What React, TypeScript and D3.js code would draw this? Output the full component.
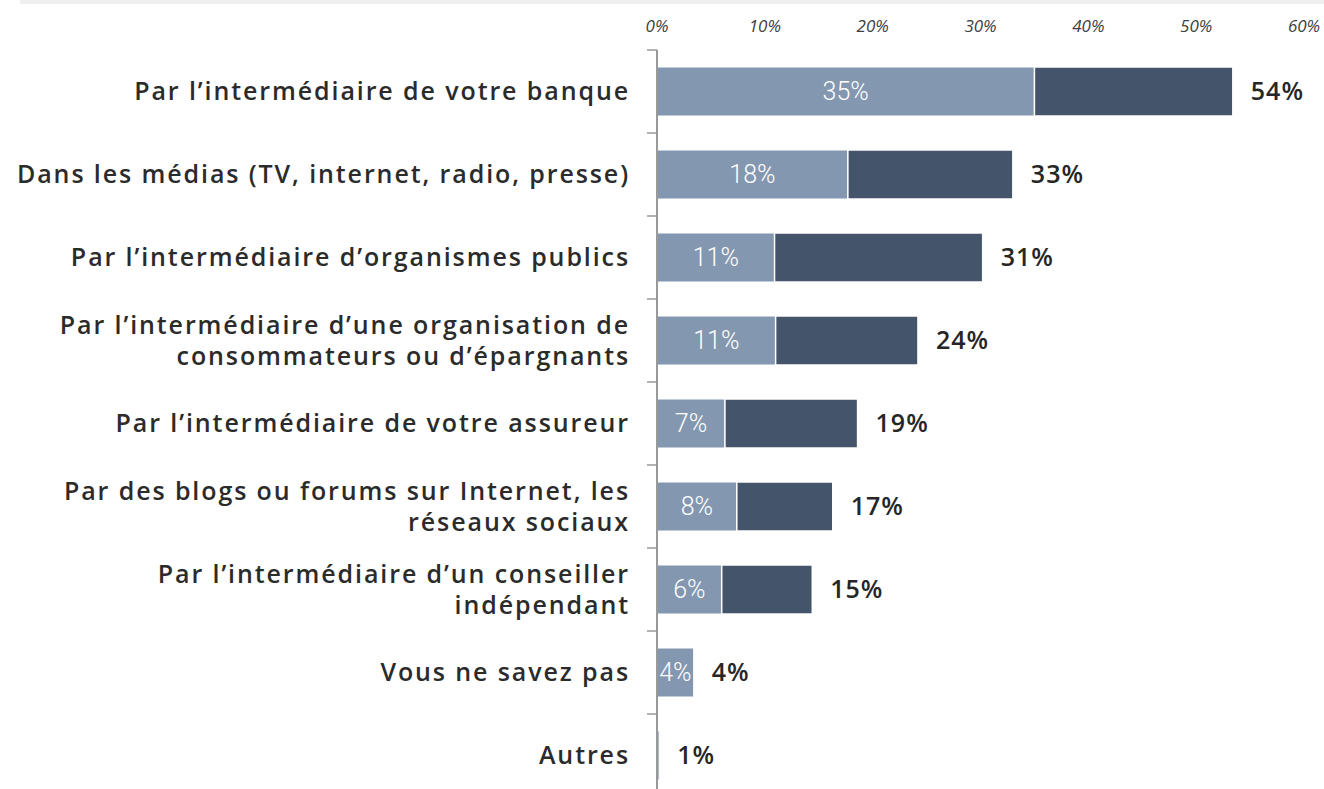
import React from "react";
import * as d3 from "d3";

// categories, top to bottom (\n = line break in the label)
const categories = [
  "Par l’intermédiaire de votre banque",
  "Dans les médias (TV, internet, radio, presse)",
  "Par l’intermédiaire d’organismes publics",
  "Par l’intermédiaire d’une organisation de\nconsommateurs ou d’épargnants",
  "Par l’intermédiaire de votre assureur",
  "Par des blogs ou forums sur Internet, les\nréseaux sociaux",
  "Par l’intermédiaire d’un conseiller\nindépendant",
  "Vous ne savez pas",
  "Autres",
];

// first segment (light) and total bar length
const firstValues = [35.0, 17.7, 10.9, 11.0, 6.3, 7.4, 6.0, 3.4, 0.2];
const totalValues = [53.4, 33.0, 30.2, 24.2, 18.6, 16.3, 14.4, 3.4, 0.2];

// printed labels
const firstLabels = ["35%", "18%", "11%", "11%", "7%", "8%", "6%", "4%", ""];
const totalLabels = ["54%", "33%", "31%", "24%", "19%", "17%", "15%", "4%", "1%"];

const ticks = [0, 10, 20, 30, 40, 50, 60];

const W = 1324;
const H = 789;
const LIGHT = "#8497b0";
const DARK = "#44546a";
const AXIS = "#999999";

export default function App() {
  const x = d3.scaleLinear().domain([0, 60]).range([657, 1304]);
  const y = d3.scaleBand<string>().domain(categories).range([50, 797]).padding(0);
  const step = y.step();
  const barH = 49;

  return (
    <div style={{ position: "absolute", left: 0, top: 0 }}>
      <svg width={W} height={H} style={{ display: "block", background: "#fff" }}>
        <rect x={20} y={0} width={W - 20} height={4} fill="#efefef" />

        {/* top tick labels */}
        {ticks.map((t) => (
          <text
            key={t}
            x={x(t)}
            y={32}
            textAnchor="middle"
            fontFamily="Open Sans"
            fontStyle="italic"
            fontSize={17}
            fill="#404040"
          >
            {t}%
          </text>
        ))}

        {categories.map((c, i) => {
          const y0 = y(c)!;
          const cy = y0 + step / 2;
          const by = cy - barH / 2;
          const lines = c.split("\n");
          const lh = 31;
          return (
            <g key={c}>
              <text
                x={630}
                y={cy}
                textAnchor="end"
                fontFamily="Open Sans"
                fontWeight={600}
                fontSize={25}
                letterSpacing={1.9}
                fill="#2b2b2b"
              >
                {lines.map((l, j) => (
                  <tspan
                    key={j}
                    x={630}
                    y={cy + (j - (lines.length - 1) / 2) * lh}
                    dy="0.35em"
                  >
                    {l}
                  </tspan>
                ))}
              </text>

              <rect
                x={x(0)}
                y={by}
                width={x(firstValues[i]) - x(0)}
                height={barH}
                fill={LIGHT}
                stroke="#fff"
                strokeWidth={1}
              />
              {totalValues[i] > firstValues[i] && (
                <rect
                  x={x(firstValues[i])}
                  y={by}
                  width={x(totalValues[i]) - x(firstValues[i])}
                  height={barH}
                  fill={DARK}
                  stroke="#fff"
                  strokeWidth={1.5}
                />
              )}
              {firstLabels[i] && (
                <text
                  x={(x(0) + x(firstValues[i])) / 2}
                  y={cy}
                  dy="0.35em"
                  textAnchor="middle"
                  fontFamily="Roboto"
                  fontWeight={300}
                  fontSize={25}
                  fill="#fff"
                >
                  {firstLabels[i]}
                </text>
              )}
              <text
                x={x(totalValues[i]) + 18}
                y={cy}
                dy="0.35em"
                fontFamily="Open Sans"
                fontWeight={600}
                fontSize={25}
                letterSpacing={1}
                fill="#262626"
              >
                {totalLabels[i]}
              </text>
            </g>
          );
        })}

        {/* vertical axis with ticks at band edges */}
        <line x1={657} x2={657} y1={50} y2={H} stroke={AXIS} strokeWidth={2} />
        {categories.map((c) => (
          <line
            key={c}
            x1={647}
            x2={657}
            y1={y(c)!}
            y2={y(c)!}
            stroke={AXIS}
            strokeWidth={1.5}
          />
        ))}
      </svg>
    </div>
  );
}
